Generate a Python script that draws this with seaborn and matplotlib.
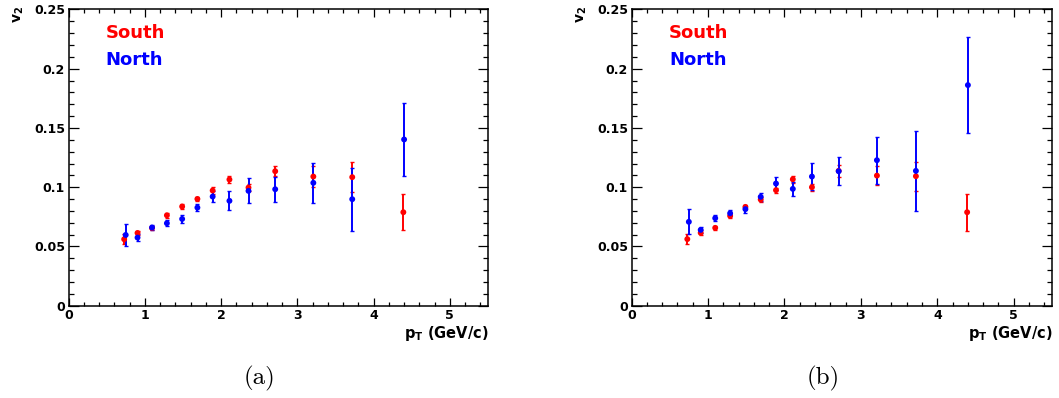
import matplotlib
matplotlib.use("Agg")
import matplotlib.pyplot as plt
from matplotlib.ticker import MultipleLocator, FixedLocator, FixedFormatter
import numpy as np
import pandas as pd
import seaborn as sns

# ---- data: v2 vs pT for the South and North arms, two selections (a) and (b)
pt_south = [0.73, 0.905, 1.095, 1.29, 1.49, 1.69, 1.89, 2.11, 2.36, 2.71, 3.21, 3.72, 4.39]
pt_north = [0.75, 0.905, 1.095, 1.29, 1.49, 1.69, 1.89, 2.11, 2.36, 2.71, 3.21, 3.72, 4.40]

v2_south_a = [0.0561, 0.0614, 0.0656, 0.0763, 0.0837, 0.0901, 0.0972, 0.1065, 0.0997, 0.1135, 0.1090, 0.1085, 0.0789]
err_south_a = [0.0040, 0.0020, 0.0015, 0.0020, 0.0020, 0.0020, 0.0030, 0.0030, 0.0030, 0.0040, 0.0085, 0.0124, 0.0153]
v2_north_a = [0.0597, 0.0575, 0.0660, 0.0696, 0.0732, 0.0828, 0.0921, 0.0885, 0.0969, 0.0983, 0.1037, 0.0899, 0.1403]
err_north_a = [0.0090, 0.0030, 0.0020, 0.0025, 0.0030, 0.0030, 0.0045, 0.0080, 0.0105, 0.0107, 0.0168, 0.0265, 0.0307]

v2_south_b = [0.0562, 0.0615, 0.0657, 0.0758, 0.0834, 0.0896, 0.0975, 0.1067, 0.1000, 0.1138, 0.1098, 0.1093, 0.0789]
err_south_b = [0.0040, 0.0020, 0.0015, 0.0020, 0.0020, 0.0020, 0.0020, 0.0030, 0.0030, 0.0050, 0.0080, 0.0124, 0.0155]
v2_north_b = [0.0708, 0.0640, 0.0739, 0.0780, 0.0815, 0.0919, 0.1031, 0.0986, 0.1090, 0.1135, 0.1228, 0.1138, 0.1862]
err_north_b = [0.0107, 0.0025, 0.0025, 0.0025, 0.0030, 0.0035, 0.0058, 0.0058, 0.0115, 0.0120, 0.0197, 0.0337, 0.0405]

x_ticks = [0, 1, 2, 3, 4, 5]
y_ticks = [0, 0.05, 0.1, 0.15, 0.2, 0.25]
y_tick_labels = ["0", "0.05", "0.1", "0.15", "0.2", "0.25"]
panel_labels = ["(a)", "(b)"]
side_colors = {"South": "#ff0000", "North": "#0000ff"}

sns.set_style("ticks")
plt.rcParams["font.family"] = ["DejaVu Sans"]
plt.rcParams["font.weight"] = "bold"
plt.rcParams["text.color"] = "black"
plt.rcParams["axes.labelcolor"] = "black"
plt.rcParams["xtick.color"] = "black"
plt.rcParams["ytick.color"] = "black"
plt.rcParams["mathtext.fontset"] = "custom"
plt.rcParams["mathtext.rm"] = "DejaVu Sans:bold"
plt.rcParams["mathtext.it"] = "DejaVu Sans:bold"
plt.rcParams["mathtext.bf"] = "DejaVu Sans:bold"


def make_frame(v2_s, e_s, v2_n, e_n):
    south = pd.DataFrame({"pt": pt_south, "v2": v2_s, "err": e_s, "side": "South"})
    north = pd.DataFrame({"pt": pt_north, "v2": v2_n, "err": e_n, "side": "North"})
    return pd.concat([south, north], ignore_index=True)


panels = [
    make_frame(v2_south_a, err_south_a, v2_north_a, err_north_a),
    make_frame(v2_south_b, err_south_b, v2_north_b, err_north_b),
]

W, H = 1059, 398
fig = plt.figure(figsize=(W / 100, H / 100), dpi=100)

ax_boxes = [
    [68.5 / W, 1 - 305.7 / H, (488 - 68.5) / W, (305.7 - 9.5) / H],
    [631.5 / W, 1 - 305.7 / H, (1052 - 631.5) / W, (305.7 - 9.5) / H],
]
caption_x = [260 / W, 823 / W]

for box, df, lab, cx in zip(ax_boxes, panels, panel_labels, caption_x):
    ax = fig.add_axes(box)
    for side in ["South", "North"]:
        sub = df[df["side"] == side]
        ax.errorbar(sub["pt"], sub["v2"], yerr=sub["err"], fmt="none",
                    ecolor=side_colors[side], elinewidth=1.4, capsize=1.6,
                    capthick=1.0, zorder=2)
    sns.scatterplot(data=df, x="pt", y="v2", hue="side",
                    hue_order=["South", "North"], palette=side_colors,
                    s=18, linewidth=0, legend=False, ax=ax, zorder=3)

    ax.set_xlim(0, 5.5)
    ax.set_ylim(0, 0.25)
    ax.xaxis.set_major_locator(FixedLocator(x_ticks))
    ax.set_xticklabels([str(t) for t in x_ticks])
    ax.yaxis.set_major_locator(FixedLocator(y_ticks))
    ax.yaxis.set_major_formatter(FixedFormatter(y_tick_labels))
    ax.xaxis.set_minor_locator(MultipleLocator(0.2))
    ax.yaxis.set_minor_locator(MultipleLocator(0.01))

    ax.tick_params(axis="both", which="both", direction="in", top=True,
                   right=True, color="black", width=0.9, labelsize=9,
                   labelcolor="black")
    ax.tick_params(axis="x", which="major", length=5.8, pad=2.5)
    ax.tick_params(axis="x", which="minor", length=2.9)
    ax.tick_params(axis="y", which="major", length=7.2, pad=2.5)
    ax.tick_params(axis="y", which="minor", length=3.6)
    for lbl in ax.get_xticklabels() + ax.get_yticklabels():
        lbl.set_fontweight("bold")

    for sp in ax.spines.values():
        sp.set_color("black")
        sp.set_linewidth(1.1)
        sp.set_visible(True)

    ax.set_xlabel("")
    ax.set_ylabel("")
    ax.text(1.0, -0.063, r"$\mathregular{p_{T}}$ (GeV/c)", transform=ax.transAxes,
            ha="right", va="top", fontsize=10.5, fontweight="bold", color="black")

    ax.text(0.089, 0.921, "South", transform=ax.transAxes, color="#ff0000",
            ha="left", va="center", fontsize=13, fontweight="bold")
    ax.text(0.089, 0.830, "North", transform=ax.transAxes, color="#0000ff",
            ha="left", va="center", fontsize=13, fontweight="bold")

    x0 = box[0]
    fig.text(x0 - 50 / W, 1 - 6 / H, r"$\mathregular{v_{2}}$", rotation=90,
             ha="center", va="top", fontsize=10, fontweight="bold", color="black")

    fig.text(cx, 1 - 378 / H, lab, family="cmr10", fontsize=18,
             ha="center", va="center", fontweight="normal", color="black")

fig.savefig("out.png", dpi=100)
